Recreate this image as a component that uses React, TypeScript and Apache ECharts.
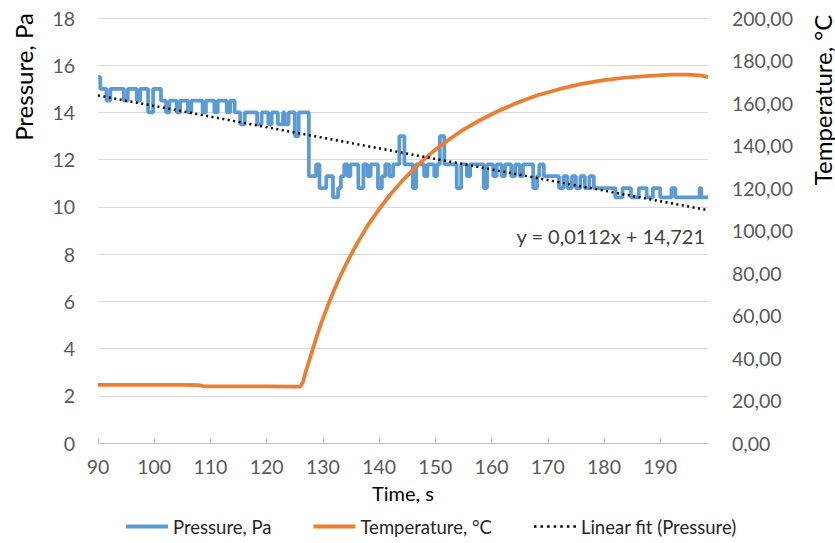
import React, { useEffect, useRef } from "react";
import * as echarts from "echarts";

// Pressure change points (step series): time in s, pressure in Pa
const pressureTimes = [
  90, 90.4, 91.5, 92.2, 94.6, 95.3, 96.9, 97.5, 98.9, 99.8,
  101.2, 102.1, 102.7, 104.0, 104.6, 106.0, 106.6, 108.6, 109.2, 110.7,
  111.3, 112.9, 113.5, 114.3, 115.3, 116.1, 118.3, 119.1, 120.3, 120.9,
  122.0, 122.9, 123.2, 123.9, 125.0, 125.7, 127.5, 128.8, 129.4, 130.6,
  131.8, 132.7, 133.2, 133.8, 134.4, 134.9, 136.3, 137.2, 137.9, 138.5,
  139.8, 140.5, 141.1, 141.8, 142.5, 143.6, 144.5, 146.0, 146.6, 148.0,
  148.6, 149.8, 150.3, 150.8, 151.6, 153.8, 154.6, 155.6, 156.2, 158.6,
  159.2, 160.3, 160.9, 161.8, 162.4, 163.5, 164.2, 165.0, 165.6, 167.4,
  168.1, 168.5, 169.3, 172.0, 172.8, 173.5, 174.3, 175.0, 175.8, 176.6,
  177.4, 178.2, 182.0, 183.3, 184.8, 186.2, 187.6, 188.7, 190.0, 192.0,
  192.7, 197.0, 197.3, 198.5,
];
const pressureValues = [
  15.5, 15.0, 14.5, 15.0, 14.5, 15.0, 14.5, 15.0, 14.0, 15.0,
  14.5, 14.0, 14.5, 14.0, 14.5, 14.0, 14.5, 14.0, 14.5, 14.0,
  14.5, 14.0, 14.5, 14.0, 13.5, 14.0, 13.5, 14.0, 13.5, 14.0,
  13.5, 14.0, 13.5, 14.0, 13.0, 14.0, 11.3, 11.8, 10.8, 11.3,
  10.4, 10.8, 11.3, 11.8, 11.3, 11.8, 10.8, 11.8, 11.3, 11.8,
  10.8, 11.3, 11.8, 11.3, 11.8, 13.0, 11.8, 10.8, 11.8, 11.3,
  11.8, 11.3, 11.8, 13.0, 11.8, 10.8, 11.8, 11.3, 11.8, 10.8,
  11.8, 11.3, 11.8, 11.3, 11.8, 11.3, 11.8, 11.3, 11.8, 10.8,
  11.3, 11.8, 11.3, 10.8, 11.3, 10.8, 11.3, 10.8, 11.3, 10.8,
  11.3, 10.8, 10.4, 10.8, 10.4, 10.8, 10.4, 10.8, 10.4, 10.8,
  10.4, 10.8, 10.4, 10.4,
];

// Temperature: time in s, temperature in °C
const tempTimes = [
  90, 95, 100, 105, 108, 109, 115, 120, 125, 126, 126.5, 127, 128, 129,
  130, 131, 132, 133, 134, 135, 136, 137, 138, 140, 142, 144, 146, 148,
  150, 152, 155, 158, 161, 164, 168, 172, 176, 180, 184, 188, 192, 195,
  197, 198.5,
];
const tempValues = [
  27.4, 27.4, 27.3, 27.3, 27.2, 26.6, 26.6, 26.6, 26.5, 26.5, 29, 34, 42.5, 51,
  58.5, 65.5, 72, 78, 83.5, 88.5, 93.5, 98, 102.5, 110, 117, 123, 128.5, 133.5,
  138, 142, 147.5, 152, 156, 159.5, 163.5, 166.5, 169, 170.8, 172, 172.8, 173.3, 173.4,
  173, 172.3,
];

// Linear fit of pressure (end points)
const fitTimes = [90, 198.5];
const fitValues = [14.72, 9.86];

const xTicks = { min: 90, max: 198.5, interval: 10 };
const leftTicks = { min: 0, max: 18, interval: 2 };
const rightTicks = { min: 0, max: 200, interval: 20 };

const seriesNames = ["Pressure, Pa", "Temperature, °C", "Linear fit (Pressure)"];
const equationText = "y = 0,0112x + 14,721";

const FONT = "Lato";
const LABEL = "#595959";

// legend icons
const solidIcon = "path://M0,0H42V4H0Z";
const dottedIcon =
  "path://" +
  Array.from({ length: 7 }, (_, i) => `M${i * 6.5},0h2.5v2.5h-2.5Z`).join("");

export default function App() {
  const ref = useRef<HTMLDivElement>(null);
  useEffect(() => {
    if (!ref.current) return;
    const chart = echarts.init(ref.current, null, { renderer: "svg" });
    const pressure = pressureTimes.map((t, i) => [t, pressureValues[i]]);
    const temp = tempTimes.map((t, i) => [t, tempValues[i]]);
    const fit = fitTimes.map((t, i) => [t, fitValues[i]]);
    chart.setOption({
      animation: false,
      textStyle: { fontFamily: FONT },
      grid: { left: 98, right: 127, top: 18, bottom: 100, containLabel: false },
      xAxis: {
        type: "value",
        min: xTicks.min,
        max: xTicks.max,
        interval: xTicks.interval,
        name: "Time, s",
        nameLocation: "middle",
        nameGap: 40,
        nameTextStyle: { color: "#000", fontSize: 20, fontFamily: FONT },
        axisLine: { show: true, onZero: false, lineStyle: { color: "#bfbfbf", width: 1 } },
        axisTick: { show: true, inside: true, length: 5, lineStyle: { color: "#bfbfbf" } },
        splitLine: { show: false },
        axisLabel: { color: LABEL, fontSize: 19.5, margin: 13, showMaxLabel: false, fontFamily: FONT },
      },
      yAxis: [
        {
          type: "value",
          min: leftTicks.min,
          max: leftTicks.max,
          interval: leftTicks.interval,
          position: "left",
          axisLine: { show: false },
          axisTick: { show: false },
          splitLine: { show: true, lineStyle: { color: "#d9d9d9", width: 1 } },
          axisLabel: { color: LABEL, fontSize: 19.5, margin: 23, fontFamily: FONT },
        },
        {
          type: "value",
          min: rightTicks.min,
          max: rightTicks.max,
          interval: rightTicks.interval,
          position: "right",
          axisLine: { show: false },
          axisTick: { show: false },
          splitLine: { show: false },
          axisLabel: {
            color: LABEL,
            fontSize: 19.5,
            margin: 24,
            fontFamily: FONT,
            formatter: (v: number) => v.toFixed(2).replace(".", ","),
          },
        },
      ],
      legend: {
        left: 121,
        top: 512,
        itemGap: 42,
        itemWidth: 42,
        itemHeight: 4,
        textStyle: { color: "#262626", fontSize: 18.5, fontFamily: FONT },
        data: [
          { name: seriesNames[0], icon: solidIcon, itemStyle: { color: "#5B9BD5" } },
          { name: seriesNames[1], icon: solidIcon, itemStyle: { color: "#ED7D31" } },
          { name: seriesNames[2], icon: dottedIcon, itemStyle: { color: "#000" } },
        ],
      },
      series: [
        {
          name: seriesNames[0],
          type: "line",
          step: "end",
          yAxisIndex: 0,
          data: pressure,
          symbol: "none",
          lineStyle: { color: "#5B9BD5", width: 3.75 },
          itemStyle: { color: "#5B9BD5" },
        },
        {
          name: seriesNames[1],
          type: "line",
          yAxisIndex: 1,
          data: temp,
          symbol: "none",
          lineStyle: { color: "#ED7D31", width: 3.75 },
          itemStyle: { color: "#ED7D31" },
        },
        {
          name: seriesNames[2],
          type: "line",
          yAxisIndex: 0,
          data: fit,
          symbol: "none",
          lineStyle: { color: "#000", width: 2.5, type: [2, 3.5] },
          itemStyle: { color: "#000" },
        },
      ],
      graphic: [
        {
          type: "text",
          x: 23,
          y: 77,
          rotation: Math.PI / 2,
          style: {
            text: "Pressure, Pa",
            fill: "#000",
            font: `24px ${FONT}`,
            align: "center",
            verticalAlign: "middle",
          },
        },
        {
          type: "text",
          x: 822,
          y: 100,
          rotation: Math.PI / 2,
          style: {
            text: "Temperature, °C",
            fill: "#000",
            font: `24px ${FONT}`,
            align: "center",
            verticalAlign: "middle",
          },
        },
        {
          type: "text",
          x: 705,
          y: 236,
          style: {
            text: equationText,
            fill: "#404040",
            font: `20px ${FONT}`,
            align: "right",
            verticalAlign: "middle",
          },
        },
      ],
    });
    return () => chart.dispose();
  }, []);
  return (
    <div
      ref={ref}
      style={{ position: "absolute", left: 0, top: 0, width: 835, height: 543, background: "#fff" }}
    />
  );
}
